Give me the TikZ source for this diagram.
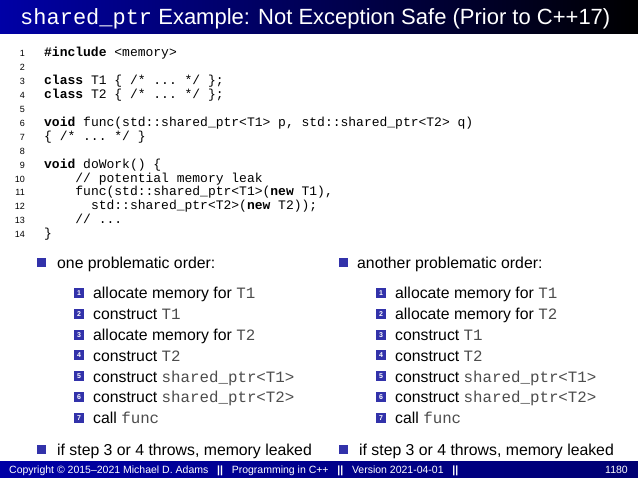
\documentclass[tikz,border=0pt]{standalone}
\usepackage{fontspec}
\setmainfont{Liberation Sans}
\setmonofont{Liberation Mono}
\definecolor{bb}{RGB}{50,50,170}
\begin{document}
\begin{tikzpicture}[x=1pt,y=-1pt,
 code/.style={anchor=base west,inner sep=0pt,font=\fontsize{13}{14}\selectfont\ttfamily},
 ln/.style={anchor=base east,inner sep=0pt,font=\fontsize{9}{10}\selectfont},
 txt/.style={anchor=base west,inner sep=0pt,font=\fontsize{15.8}{17}\selectfont},
 bul/.style={fill=bb,minimum size=9pt,inner sep=0pt},
 num/.style={fill=bb,minimum size=10pt,inner sep=0pt,text=white,font=\fontsize{7}{7}\selectfont\bfseries}]
\useasboundingbox (0,0) rectangle (638,478);
\shade[left color=blue!65!black,right color=black] (0,0) rectangle (638,34);
\node[anchor=base west,inner sep=0pt,text=white,font=\fontsize{22}{24}\selectfont] (title) at (20,25) {{\ttfamily shared\_ptr} Example: Not Exception Safe (Prior to C++17)};
\foreach \n/\t in {1/{\textbf{\#include} <memory>},2/{},3/{\textbf{class} T1 \{ /* ... */ \};},4/{\textbf{class} T2 \{ /* ... */ \};},5/{},6/{\textbf{void} func(std::shared\_ptr<T1> p, std::shared\_ptr<T2> q)},7/{\{ /* ... */ \}},8/{},9/{\textbf{void} doWork() \{},10/{\ \ \ \ // potential memory leak},11/{\ \ \ \ func(std::shared\_ptr<T1>(\textbf{new} T1),},12/{\ \ \ \ \ \ std::shared\_ptr<T2>(\textbf{new} T2));},13/{\ \ \ \ // ...},14/{\}}}{
 \node[ln] (l\n) at (25,{57+(\n-1)*13.9}) {\n};
 \node[code] (c\n) at (44,{57+(\n-1)*13.9}) {\t};
}
\foreach \x/\p in {0/a,302/b}{
 \node[bul] (\p h) at (41+\x,263) {};
 \node[bul] (\p f) at (41+\x,450) {};
 \node[txt] at (57+\x,456) {if step 3 or 4 throws, memory leaked};
}
\node[txt] (ah) at (57,269) {one problematic order:};
\node[txt] (bh) at (357,269) {another problematic order:};
\newcommand{\T}[1]{{\ttfamily\color{black!70}#1}}
\foreach \i/\t in {1/{allocate memory for \T{T1}},2/{construct \T{T1}},3/{allocate memory for \T{T2}},4/{construct \T{T2}},5/{construct \T{shared\_ptr<T1>}},6/{construct \T{shared\_ptr<T2>}},7/{call \T{func}}}{
 \node[num] (an\i) at (79,{293+(\i-1)*20.8}) {\i};
 \node[txt] (at\i) at (93,{299+(\i-1)*20.8}) {\t};
}
\foreach \i/\t in {1/{allocate memory for \T{T1}},2/{allocate memory for \T{T2}},3/{construct \T{T1}},4/{construct \T{T2}},5/{construct \T{shared\_ptr<T1>}},6/{construct \T{shared\_ptr<T2>}},7/{call \T{func}}}{
 \node[num] (bn\i) at (381,{293+(\i-1)*20.8}) {\i};
 \node[txt] (bt\i) at (395,{299+(\i-1)*20.8}) {\t};
}
\shade[left color=blue!65!black,right color=blue!45!black] (0,462) rectangle (638,478);
\node[anchor=base west,inner sep=0pt,text=white,font=\fontsize{10.5}{11}\selectfont] (foot) at (9,474) {Copyright \textcopyright{} 2015--2021 Michael D. Adams\ \ \ \textbf{||}\ \ \ Programming in C++\ \ \ \textbf{||}\ \ \ Version 2021-04-01\ \ \ \textbf{||}};
\node[anchor=base east,inner sep=0pt,text=white,font=\fontsize{10.5}{11}\selectfont] (pg) at (628,474) {1180};
\end{tikzpicture}
\end{document}
